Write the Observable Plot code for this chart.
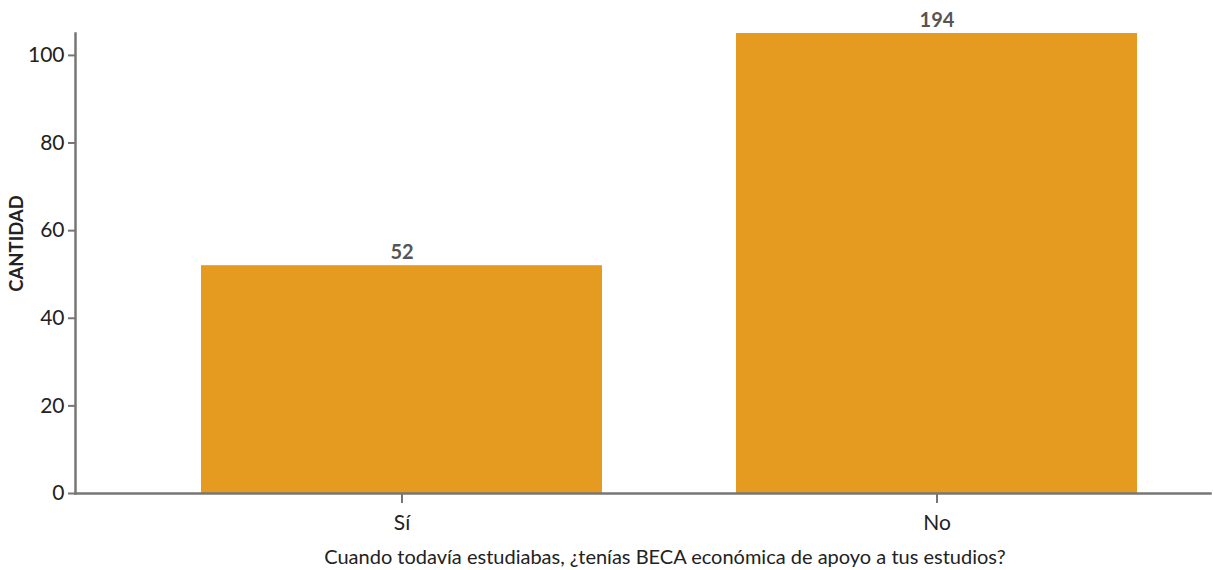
<!DOCTYPE html>
<html>
<head>
<meta charset="utf-8">
<script src="https://cdn.jsdelivr.net/npm/d3@7"></script>
<script src="https://cdn.jsdelivr.net/npm/@observablehq/plot@0.6"></script>
<style>
  body { margin: 0; background: #fff; }
</style>
</head>
<body>
<div id="chart"></div>
<script>
const categories = ["Sí", "No"];
const counts = [52, 194];
const yTicks = [0, 20, 40, 60, 80, 100];
const xTitle = "Cuando todavía estudiabas, ¿tenías BECA económica de apoyo a tus estudios?";
const yTitle = "CANTIDAD";

const data = categories.map((c, i) => ({cat: c, n: counts[i]}));
const axisColor = "#767676";
const barColor = "#E49B1F";

const chart = Plot.plot({
  width: 1213,
  height: 570,
  marginLeft: 75,
  marginRight: 3,
  marginTop: 33,
  marginBottom: 77,
  style: {fontFamily: "Lato, sans-serif", background: "#fff"},
  x: {domain: categories, paddingInner: 0.25, paddingOuter: 0.184, align: 0.634},
  y: {domain: [0, 105], clamp: true},
  marks: [
    Plot.barY(data, {x: "cat", y: "n", fill: barColor}),
    Plot.text(data, {x: "cat", y: "n", text: d => String(d.n), dy: -13, fontWeight: "bold", fontSize: 20, fill: "#555"}),
    Plot.frame({anchor: "left", stroke: axisColor, strokeWidth: 2.5}),
    Plot.frame({anchor: "bottom", stroke: axisColor, strokeWidth: 2.5}),
    Plot.axisY({ticks: yTicks, tickSize: 7, tickPadding: 4, fontSize: 21, stroke: axisColor, strokeWidth: 2, color: "#222", label: null}),
    Plot.axisX({tickSize: 10, tickPadding: 12, fontSize: 21, stroke: axisColor, strokeWidth: 2, color: "#222", label: null}),
    Plot.text([xTitle], {frameAnchor: "bottom", textAnchor: "middle", dy: 70, dx: 22, fontSize: 20, fill: "#222"}),
    Plot.text([yTitle], {frameAnchor: "left", textAnchor: "middle", rotate: -90, dx: -58, dy: -20, fontWeight: "bold", fontSize: 18.5, fill: "#222"})
  ]
});
document.getElementById("chart").appendChild(chart);
</script>
</body>
</html>
